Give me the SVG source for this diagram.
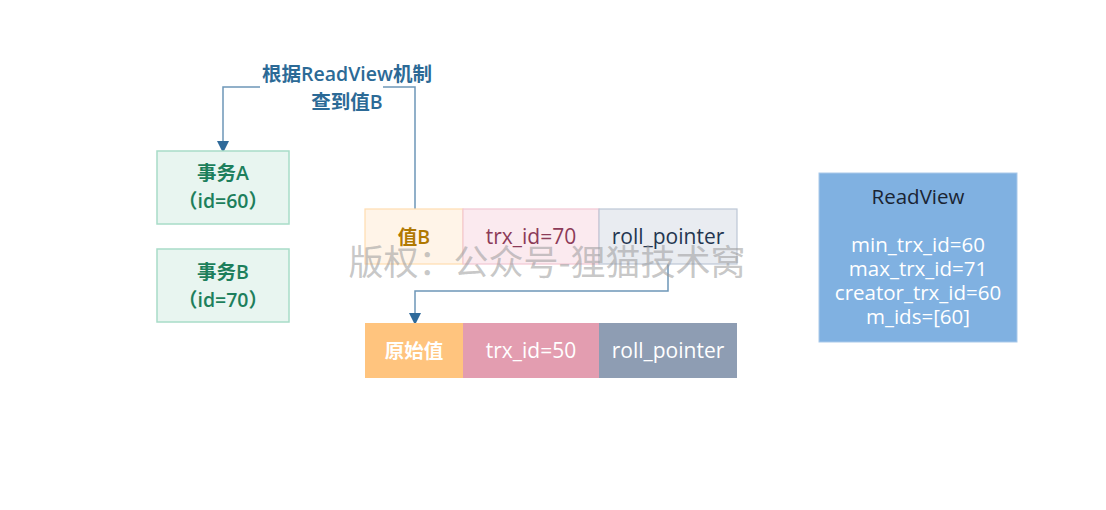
<svg xmlns="http://www.w3.org/2000/svg" width="1106" height="510" viewBox="0 0 1106 510">
<defs>
<marker id="arr" markerWidth="12" markerHeight="12" refX="10" refY="6" orient="auto" markerUnits="userSpaceOnUse" viewBox="0 0 12 12">
<path d="M0,0 L12,6 L0,12 Z" fill="#2f6a9a"/>
</marker>
<style>
text{font-family:"Open Sans","Noto Sans CJK SC","Liberation Sans",sans-serif;text-anchor:middle;dominant-baseline:central}
.tx{fill:#e8f5f0;stroke:#a8dcc8;stroke-width:1.5}
.txt{fill:#1d7f5c;font-size:19.5px;font-weight:600}
.conn{fill:none;stroke:#6d97b8;stroke-width:1.5}
.cell{font-size:21px}
.cn{font-size:19.5px;font-weight:600}
.lbl{font-size:19.5px;font-weight:600;fill:#2c6a96}
.rv{font-size:20.5px;fill:#ffffff}
</style>
</defs>
<rect width="1106" height="510" fill="#ffffff"/>
<g id="connectors">
<path class="conn" d="M415,209 V87 H223 V151" marker-end="url(#arr)"/>
<rect x="260" y="82" width="123" height="10" fill="#ffffff"/>
<path class="conn" d="M668,264 V291 H415 V323" marker-end="url(#arr)"/>
<text class="lbl" x="347" y="73">根据ReadView机制</text>
<text class="lbl" x="347" y="101">查到值B</text>
</g>
<g id="txA">
<rect class="tx" x="157" y="151" width="132" height="73"/>
<text class="txt" x="223" y="172">事务A</text>
<text class="txt" x="223" y="200">（id=60）</text>
</g>
<g id="txB">
<rect class="tx" x="157" y="249" width="132" height="73"/>
<text class="txt" x="223" y="271">事务B</text>
<text class="txt" x="223" y="299">（id=70）</text>
</g>
<g id="rowTop">
<rect x="365" y="209" width="98" height="55" fill="#fff4e8" stroke="#ffdcb0" stroke-width="1.2"/>
<text class="cn" x="414" y="236" style="fill:#b07800">值B</text>
<rect x="463" y="209" width="136" height="55" fill="#fbeaef" stroke="#f2c6d2" stroke-width="1.2"/>
<text class="cell" x="531" y="236" style="fill:#8c3b58">trx_id=70</text>
<rect x="599" y="209" width="138" height="55" fill="#e9ecf1" stroke="#bcc7d6" stroke-width="1.2"/>
<text class="cell" x="668" y="236" style="fill:#243650">roll_pointer</text>
</g>
<g id="rowBottom">
<rect x="365" y="323" width="98" height="55" fill="#ffc47e"/>
<text class="cn" x="414" y="350" style="fill:#ffffff">原始值</text>
<rect x="463" y="323" width="136" height="55" fill="#e39db0"/>
<text class="cell" x="531" y="350" style="fill:#ffffff">trx_id=50</text>
<rect x="599" y="323" width="138" height="55" fill="#8e9db3"/>
<text class="cell" x="668" y="350" style="fill:#ffffff">roll_pointer</text>
</g>
<g id="readview">
<rect x="819" y="173" width="198" height="169" fill="#80b1e1" stroke="#a9c9ea" stroke-width="1"/>
<text x="918" y="196" style="font-size:20.5px;font-weight:500;fill:#1a2433">ReadView</text>
<text class="rv" x="918" y="244">min_trx_id=60</text>
<text class="rv" x="918" y="268">max_trx_id=71</text>
<text class="rv" x="918" y="292">creator_trx_id=60</text>
<text class="rv" x="918" y="316">m_ids=[60]</text>
</g>
<text x="547" y="259" style="font-family:'Noto Sans CJK SC',sans-serif;font-size:35px;fill:#999999;fill-opacity:0.55">版权：公众号-狸猫技术窝</text>
</svg>
